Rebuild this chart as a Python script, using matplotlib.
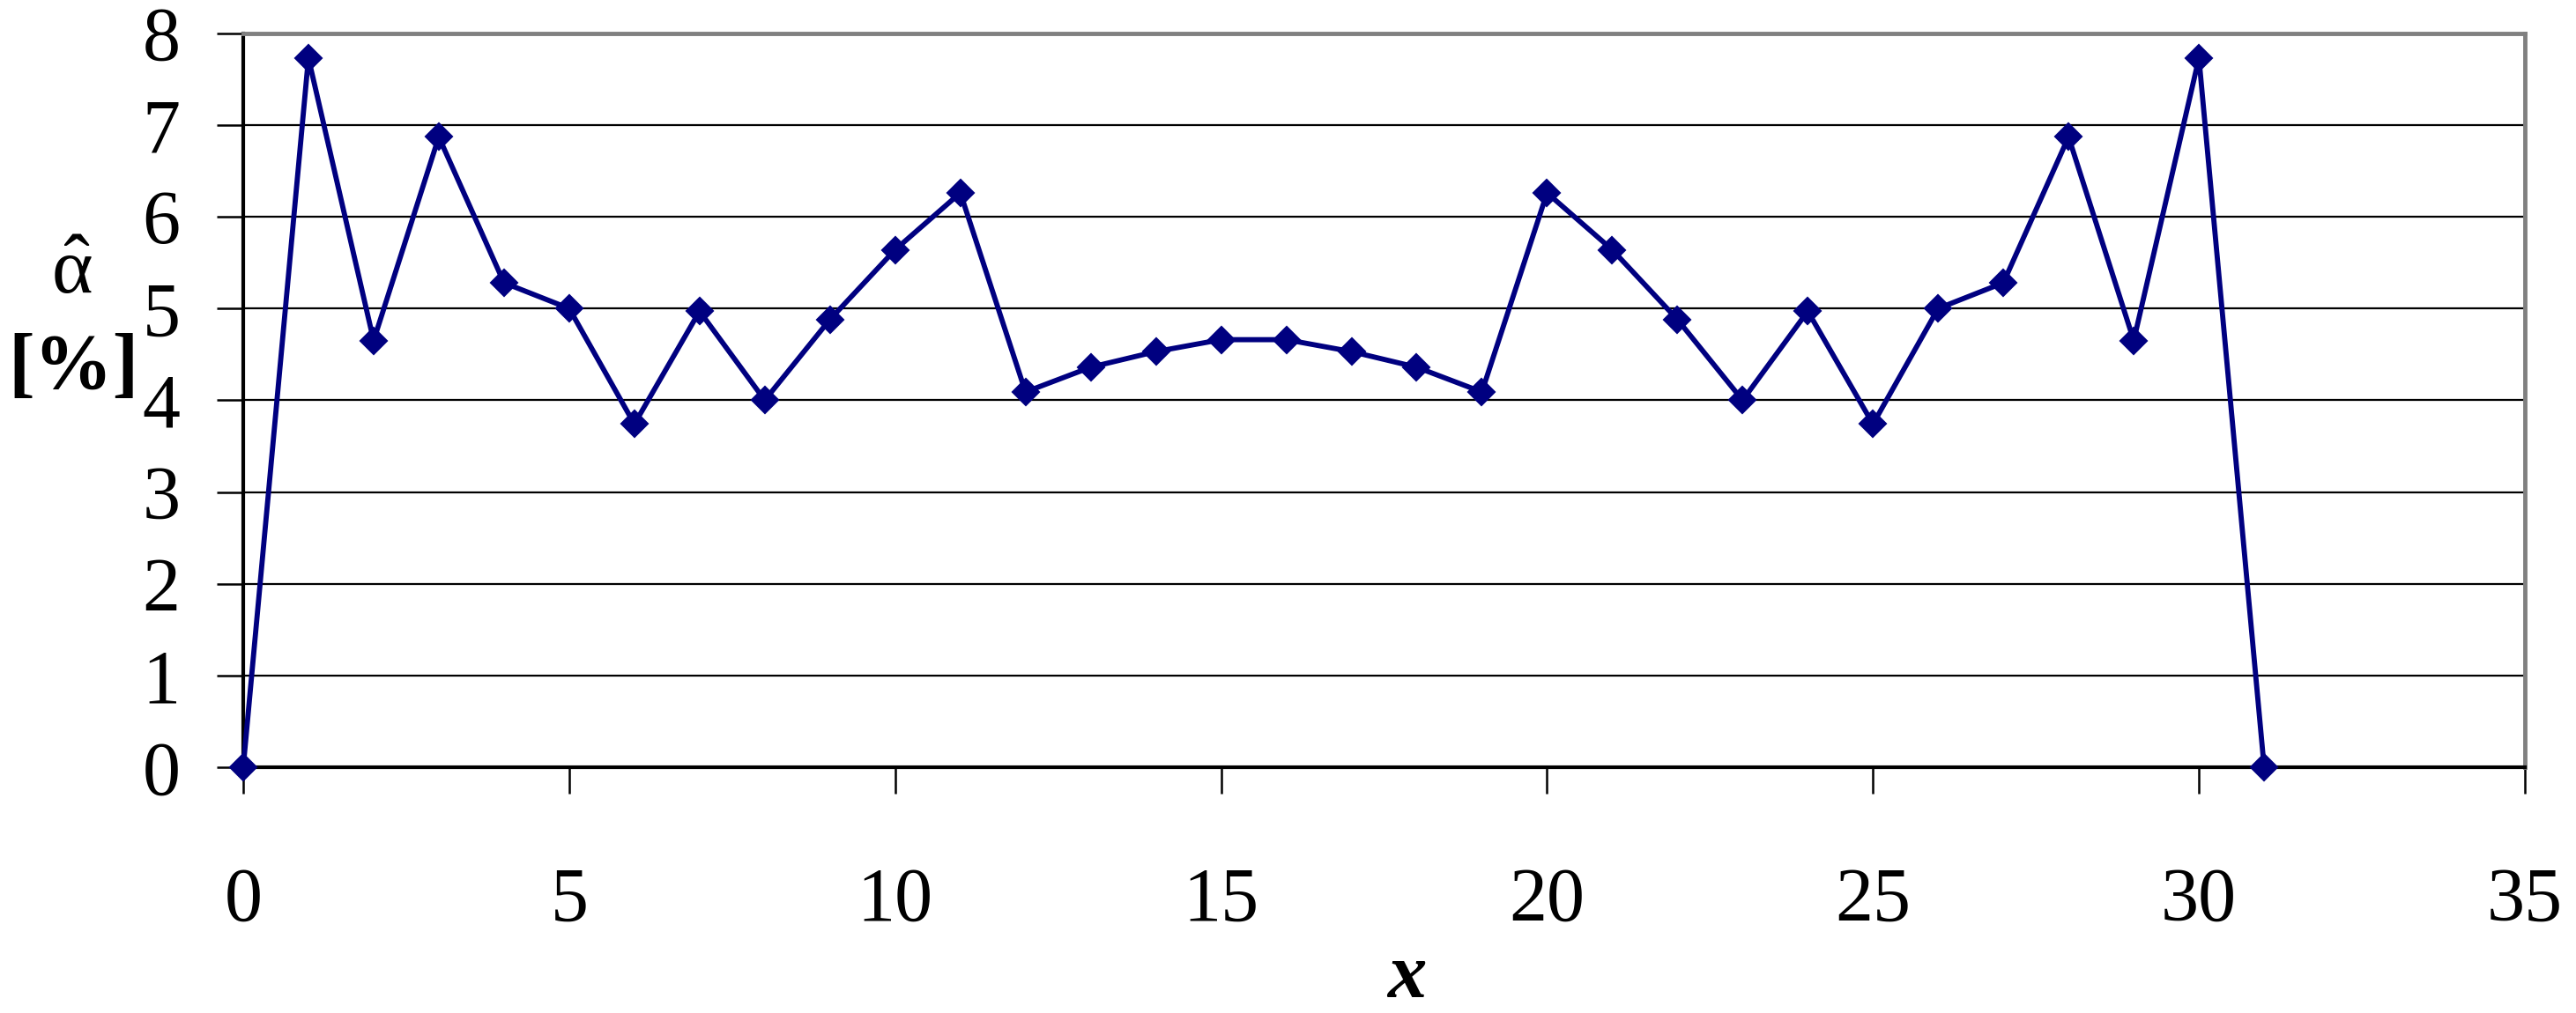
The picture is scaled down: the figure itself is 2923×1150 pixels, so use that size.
import matplotlib
matplotlib.use("Agg")
import matplotlib.pyplot as plt

# data
x = list(range(32))
alpha_hat = [0.0, 7.73, 4.65, 6.87, 5.28, 5.0, 3.74, 4.97, 4.0, 4.88, 5.64, 6.26,
             4.09, 4.36, 4.53, 4.66, 4.66, 4.53, 4.36, 4.09, 6.26, 5.64, 4.88, 4.0,
             4.97, 3.74, 5.0, 5.28, 6.87, 4.65, 7.73, 0.0]
xticks = [0, 5, 10, 15, 20, 25, 30, 35]
yticks = [0, 1, 2, 3, 4, 5, 6, 7, 8]

plt.rcParams['font.family'] = ['Liberation Serif', 'DejaVu Serif']
plt.rcParams['mathtext.fontset'] = 'custom'
plt.rcParams['mathtext.rm'] = 'Liberation Serif'
plt.rcParams['mathtext.it'] = 'Liberation Serif:italic'
plt.rcParams['mathtext.bf'] = 'Liberation Serif:bold'

W, H = 2923, 1150
fig = plt.figure(figsize=(W / 100, H / 100), dpi=100)
ax = fig.add_axes([276 / W, 1 - 871 / H, (2865 - 276) / W, (871 - 37.7) / H])

ax.plot(x, alpha_hat, color='#000080', lw=4.2, marker='D', ms=15.5,
        mfc='#000080', mec='#000080', mew=1.5, zorder=3, clip_on=False)

ax.set_xlim(0, 35)
ax.set_ylim(0, 8)
ax.set_xticks(xticks)
ax.set_yticks(yticks)
ax.grid(axis='y', color='black', lw=1.6)
ax.set_axisbelow(True)

ax.tick_params(axis='both', labelsize=62, direction='out', length=21.5,
               width=1.8, color='black')
ax.tick_params(axis='x', pad=60)
ax.tick_params(axis='y', pad=30)

for s in ['left', 'bottom']:
    ax.spines[s].set_color('black')
    ax.spines[s].set_linewidth(3)
for s in ['top', 'right']:
    ax.spines[s].set_color('#808080')
    ax.spines[s].set_linewidth(3.5)

# axis labels
fig.text(1596 / W, 1 - 1110 / H, 'x', fontsize=64, fontweight='bold',
         fontstyle='italic', ha='center', va='center')
fig.text(81 / W, 1 - 333 / H, r'$\hat{\mathrm{\alpha}}$', fontsize=64,
         ha='center', va='baseline')
fig.text(83 / W, 1 - 418 / H, '[%]', fontsize=64, fontweight='bold',
         ha='center', va='center')

fig.savefig('out.png', dpi=100)
